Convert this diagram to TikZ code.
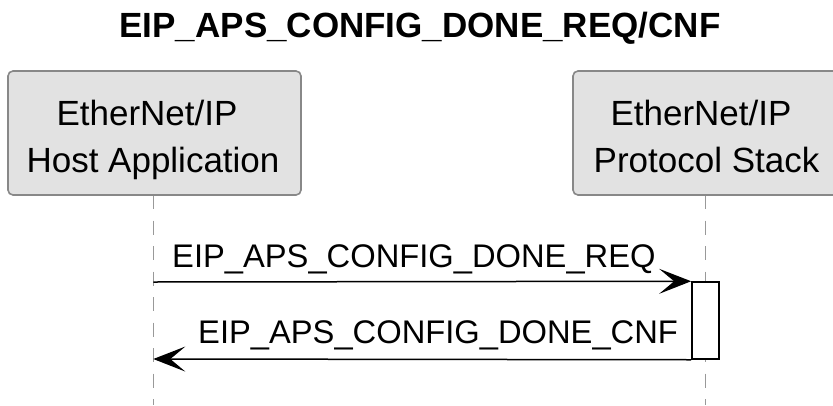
\documentclass[tikz,border=0pt]{standalone}
\usepackage{fontspec}
\setmainfont{Liberation Sans}
\usetikzlibrary{arrows.meta}
\definecolor{boxfill}{HTML}{E2E2E2}
\definecolor{boxline}{HTML}{888888}
\definecolor{lifecol}{HTML}{999999}
\tikzset{
  pbox/.style={draw=boxline, fill=boxfill, line width=1.6pt, rounded corners=5pt},
  ptext/.style={anchor=base, inner sep=0pt, font=\fontsize{35}{40}\selectfont},
  lifeline/.style={draw=lifecol, line width=1.5pt, dash pattern=on 14pt off 11.5pt},
  actbox/.style={draw=black, fill=white, line width=1.5pt, minimum width=27pt, minimum height=77pt, inner sep=0pt},
  msg/.style={draw=black, line width=1.5pt, -{Stealth[length=32pt, width=25pt, inset=15pt]}},
  msgtext/.style={anchor=base west, inner sep=0pt, font=\fontsize{32.7}{38}\selectfont},
  titletext/.style={anchor=base, inner sep=0pt, font=\fontsize{35}{40}\selectfont\bfseries}
}
\begin{document}
\begin{tikzpicture}[x=1pt, y=-1pt]
\clip (0,0) rectangle (833,405);
\fill[white] (0,0) rectangle (833,405);
% title
\node[titletext] (title) at (420,37) {EIP\_APS\_CONFIG\_DONE\_REQ/CNF};
% lifelines
\coordinate (hosttop) at (153.3,195);
\coordinate (hostend) at (153.3,405);
\coordinate (stacktop) at (705.5,195);
\coordinate (stackend) at (705.5,405);
\draw[lifeline] (hosttop) -- (hostend);
\draw[lifeline] (stacktop) -- (stackend);
% participant boxes
\draw[pbox] (8,71) rectangle (301,195);
\node[ptext] (host1) at (147,125) {EtherNet/IP};
\node[ptext] (host2) at (153,172) {Host Application};
\draw[pbox] (573,71) rectangle (840,195);
\node[ptext] (stack1) at (701,125) {EtherNet/IP};
\node[ptext] (stack2) at (706.5,172) {Protocol Stack};
% activation
\node[actbox] (act) at (705.4,320.5) {};
\coordinate (hostreq) at (153.3,282);
\coordinate (hostcnf) at (153.3,359);
\draw[msg] (hostreq) -- (act.north west);
\draw[msg] (act.south west) -- (hostcnf);
\node[msgtext] (reqlabel) at (172,267) {EIP\_APS\_CONFIG\_DONE\_REQ};
\node[msgtext] (cnflabel) at (198,343) {EIP\_APS\_CONFIG\_DONE\_CNF};
\end{tikzpicture}
\end{document}
